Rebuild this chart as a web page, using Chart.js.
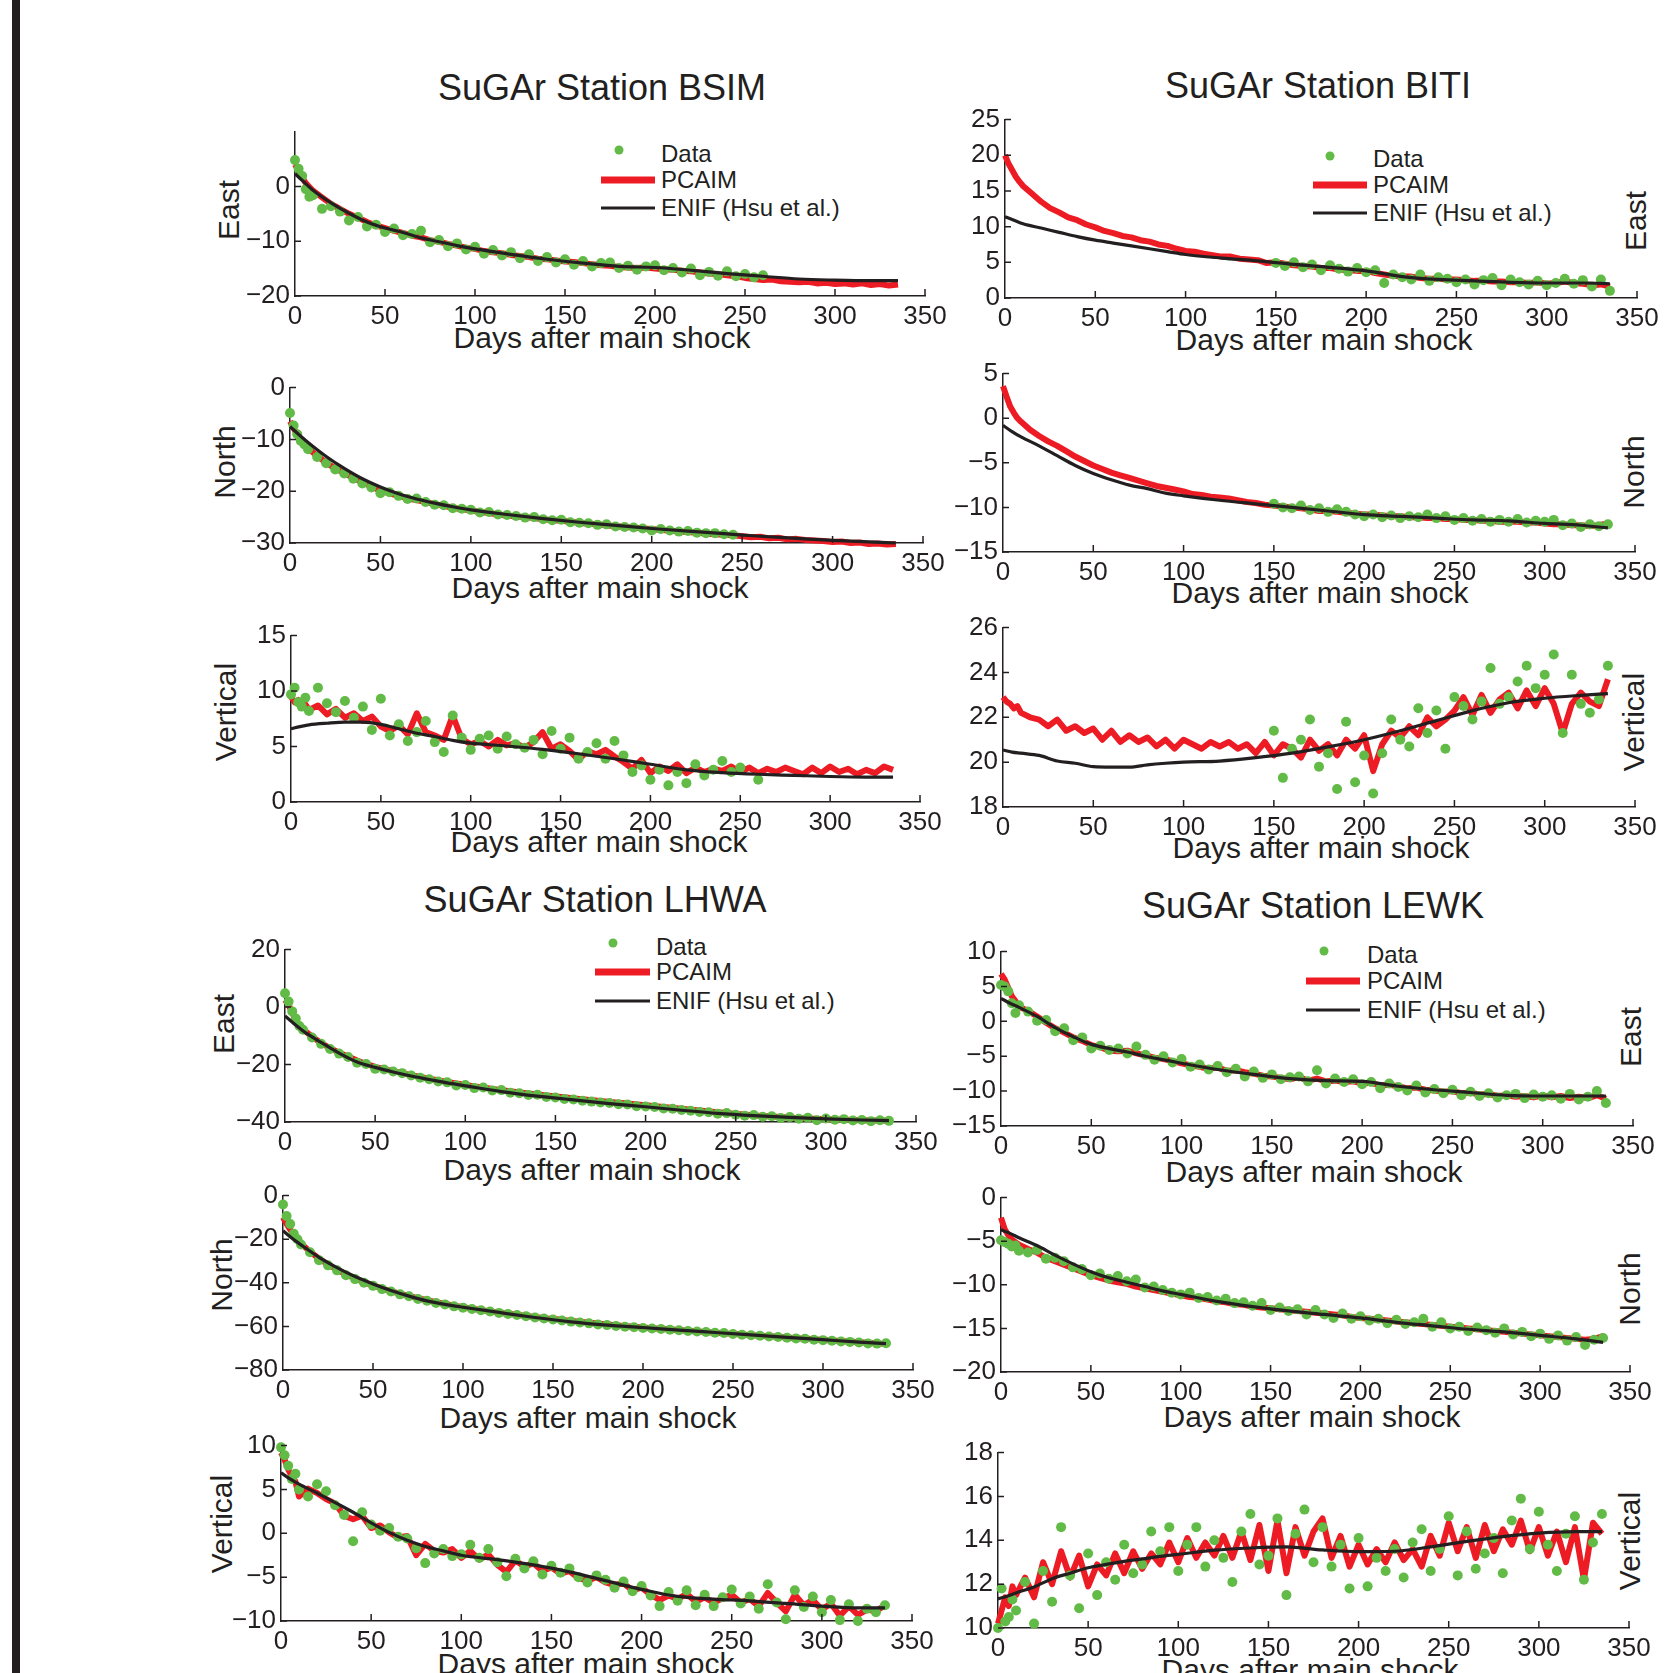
<!DOCTYPE html>
<html>
<head>
<meta charset="utf-8">
<script src="https://cdn.jsdelivr.net/npm/chart.js@4.4.0/dist/chart.umd.min.js"></script>
<style>
body { margin: 0; width: 1670px; height: 1673px; position: relative; overflow: hidden; background: #fff;
       font-family: 'Liberation Sans', Arial, sans-serif; color: #231f20; }
.bar { position: absolute; left: 12px; top: 0; width: 8px; height: 1673px; background: #231f20; }
.t { position: absolute; white-space: nowrap; line-height: 1; transform: translate(-50%, -50%); }
.title { font-size: 36px; }
.xl { font-size: 30px; }
.yl { font-size: 30px; transform: translate(-50%, -50%) rotate(-90deg); }
.lg { position: absolute; font-size: 24px; line-height: 1; white-space: nowrap; transform: translateY(-50%); }
.dot { position: absolute; width: 9px; height: 9px; border-radius: 50%; background: #62bb46; transform: translate(-50%, -50%); }
.ln { position: absolute; transform: translateY(-50%); }
canvas { position: absolute; }
</style>
</head>
<body>
<div class="bar"></div>
<script>
// days of the daily solutions (sampled) and of the ENIF curve
var DAYS = [0,2,4,6,8,10,
  15,20,25,30,35,40,45,50,55,60,
  65,70,75,80,85,90,95,100,105,110,
  115,120,125,130,135,140,145,150,155,160,
  165,170,175,180,185,190,195,200,205,210,
  215,220,225,230,235,240,245,250,255,260,
  265,270,275,280,285,290,295,300,305,310,
  315,320,325,330,335];
var ENIF_DAYS = [0,5,10,20,30,40,50,60,70,80,90,100,120,140,160,180,200,220,240,260,280,300,320,335];
var X_TICKS = [0,50,100,150,200,250,300,350];

// ---- BSIM
var bsimEastTicks = [-20,-10,0];
var bsimEastData = [4.8,3.2,1.9,-0.5,-1.9,-1.6,
  -4.1,-3.6,-4.6,-6.2,-5.6,-7.3,-7.0,-8.3,-7.7,-8.9,
  -8.7,-8.1,-10.2,-9.8,-10.9,-10.4,-11.5,-11.0,-12.3,-11.6,
  -12.6,-12.0,-13.1,-12.4,-13.6,-12.9,-13.9,-13.3,-14.3,-13.6,
  -14.6,-14.0,-13.9,-14.9,-14.5,-15.2,-14.6,-14.4,-15.3,-14.9,
  -15.7,-15.0,-16.2,-15.6,-16.3,-15.5,-16.4,-16.0,-16.6,-16.2,
  null,null,null,null,null,null,null,null,null,null,
  null,null,null,null,null];
var bsimEastPcaim = [4.0,2.9,1.6,0.6,-0.1,-0.8,
  -2.0,-3.2,-4.1,-5.0,-5.7,-6.5,-7.1,-7.6,-8.1,-8.5,
  -9.0,-9.3,-9.8,-10.1,-10.5,-10.8,-11.2,-11.4,-11.8,-12.0,
  -12.2,-12.5,-12.7,-12.9,-13.2,-13.3,-13.5,-13.7,-13.8,-14.0,
  -14.2,-14.4,-14.5,-14.7,-14.8,-14.9,-14.8,-15.0,-15.1,-15.2,
  -15.4,-15.5,-15.7,-15.9,-16.0,-16.2,-16.4,-16.7,-16.9,-17.1,
  -17.0,-17.3,-17.4,-17.5,-17.4,-17.7,-17.6,-17.8,-17.7,-17.9,
  -17.7,-18.0,-17.8,-18.1,-17.9];
var bsimEastEnif = [2.3,0.8,-0.7,-3.0,-4.9,-6.5,-7.6,-8.4,-9.4,-10.1,-10.8,-11.4,-12.4,-13.3,-14.0,-14.6,-14.8,-15.3,-15.9,-16.4,-16.9,-17.1,-17.2,-17.2];

var bsimNorthTicks = [-30,-20,-10,0];
var bsimNorthData = [-4.9,-7.3,-9.0,-10.3,-11.0,-11.9,
  -13.4,-14.6,-15.8,-16.6,-17.6,-18.5,-19.3,-20.4,-20.2,-20.9,
  -21.5,-21.4,-22.1,-22.6,-22.7,-23.3,-23.4,-23.6,-24.1,-24.0,
  -24.5,-24.6,-24.8,-25.1,-25.0,-25.4,-25.6,-25.5,-26.0,-26.1,
  -26.2,-26.5,-26.4,-26.8,-26.9,-27.0,-27.2,-27.6,-27.3,-27.6,
  -27.8,-27.7,-28.0,-28.1,-28.1,-28.3,-28.4,null,null,null,
  null,null,null,null,null,null,null,null,null,null,
  null,null,null,null,null];
var bsimNorthPcaim = [-6.5,-7.8,-9.2,-10.2,-11.0,-11.7,
  -13.2,-14.5,-15.6,-16.5,-17.4,-18.3,-19.1,-19.9,-20.4,-20.9,
  -21.4,-21.7,-22.1,-22.5,-22.8,-23.2,-23.5,-23.7,-24.0,-24.2,
  -24.5,-24.7,-24.9,-25.0,-25.2,-25.4,-25.6,-25.7,-25.9,-26.1,
  -26.3,-26.4,-26.6,-26.7,-26.9,-27.0,-27.2,-27.3,-27.5,-27.6,
  -27.8,-27.9,-28.0,-28.2,-28.3,-28.4,-28.5,-28.7,-28.9,-28.8,
  -29.1,-29.0,-29.3,-29.2,-29.4,-29.5,-29.6,-29.8,-29.7,-30.0,
  -29.9,-30.2,-30.1,-30.3,-30.2];
var bsimNorthEnif = [-7.5,-9.1,-10.6,-13.3,-15.6,-17.6,-19.2,-20.5,-21.5,-22.3,-23.0,-23.6,-24.5,-25.3,-26.0,-26.6,-27.2,-27.7,-28.2,-28.7,-29.1,-29.5,-29.8,-30.0];

var bsimVertTicks = [0,5,10,15];
var bsimVertData = [9.7,10.3,9.0,8.6,9.4,8.2,
  10.3,8.9,8.1,9.1,7.6,8.6,6.5,9.3,6.0,7.0,
  5.5,6.3,7.3,5.4,4.5,7.8,5.8,4.7,5.7,6.0,
  4.8,5.9,5.2,4.9,5.6,4.3,6.4,4.8,5.8,3.9,
  4.5,5.3,3.9,5.5,4.2,2.7,3.3,2.0,2.9,1.5,
  2.7,1.7,3.4,2.4,2.9,3.7,2.7,3.1,null,2.0,
  null,null,null,null,null,null,null,null,null,null,
  null,null,null,null,null];
var bsimVertPcaim = [9.5,9.0,9.2,8.5,8.8,8.3,
  8.7,7.9,8.4,7.6,8.0,7.3,7.7,6.8,6.4,6.9,
  6.1,8.0,6.3,6.0,5.6,7.8,5.7,5.2,5.5,5.0,
  5.6,5.1,5.3,4.9,5.4,6.3,4.8,5.2,4.6,3.8,
  4.6,4.3,4.7,4.1,3.6,3.0,3.8,2.6,3.2,2.8,
  3.4,2.6,3.1,2.7,3.0,2.8,3.2,2.7,3.1,2.6,
  3.0,2.7,3.1,2.8,2.5,3.1,2.6,3.2,2.7,3.0,
  2.5,2.9,2.6,3.2,2.9];
var bsimVertEnif = [6.6,6.8,6.95,7.1,7.2,7.2,7.0,6.6,6.2,5.9,5.55,5.3,5.05,4.75,4.35,3.9,3.4,2.9,2.65,2.5,2.4,2.3,2.25,2.25];

// ---- BITI
var bitiEastTicks = [0,5,10,15,20,25];
var bitiEastData = [null,null,null,null,null,null,
  null,null,null,null,null,null,null,null,null,null,
  null,null,null,null,null,null,null,null,null,null,
  null,null,null,null,null,null,null,4.9,4.5,5.0,
  4.3,4.7,3.9,4.6,4.1,3.7,4.2,3.6,3.9,2.1,
  3.3,2.9,2.6,3.3,2.4,2.9,2.7,2.2,2.6,1.9,
  2.5,2.8,1.8,2.6,2.2,1.9,2.4,1.8,2.1,2.7,
  2.0,2.5,1.6,2.6,1.0];
var bitiEastPcaim = [20.0,18.8,17.9,17.0,16.3,15.7,
  14.6,13.5,12.6,12.0,11.3,10.9,10.3,9.9,9.4,9.1,
  8.7,8.5,8.1,7.9,7.5,7.3,6.9,6.6,6.5,6.2,
  6.0,5.8,5.8,5.5,5.4,5.3,4.9,5.0,4.8,4.6,
  4.5,4.4,4.2,4.2,4.0,3.9,3.8,3.8,3.5,3.3,
  3.1,3.0,3.0,2.8,2.7,2.7,2.6,2.6,2.5,2.4,
  2.4,2.3,2.3,2.2,2.2,2.1,2.2,2.0,2.1,2.3,
  2.1,2.0,1.8,1.9,1.6];
var bitiEastEnif = [11.4,10.9,10.4,9.8,9.2,8.6,8.1,7.7,7.3,6.9,6.5,6.1,5.6,5.2,4.7,4.3,3.8,3.0,2.6,2.4,2.2,2.1,2.1,2.0];

var bitiNorthTicks = [-15,-10,-5,0,5];
var bitiNorthData = [null,null,null,null,null,null,
  null,null,null,null,null,null,null,null,null,null,
  null,null,null,null,null,null,null,null,null,null,
  null,null,null,null,null,null,null,-9.6,-10.0,-10.1,
  -9.8,-10.3,-10.1,-10.5,-10.2,-10.5,-10.8,-11.0,-10.8,-11.1,
  -10.9,-11.2,-11.0,-11.1,-10.8,-11.2,-11.0,-11.4,-11.2,-11.5,
  -11.3,-11.6,-11.4,-11.6,-11.3,-11.7,-11.5,-11.6,-11.4,-12.0,
  -11.8,-12.2,-11.9,-12.1,-11.9];
var bitiNorthPcaim = [3.6,2.4,1.3,0.6,0.0,-0.4,
  -1.3,-2.0,-2.6,-3.1,-3.7,-4.3,-4.8,-5.3,-5.7,-6.1,
  -6.4,-6.7,-7.0,-7.3,-7.6,-7.8,-8.0,-8.2,-8.5,-8.6,
  -8.8,-8.9,-9.0,-9.2,-9.4,-9.5,-9.7,-9.8,-9.9,-10.0,
  -10.1,-10.2,-10.4,-10.4,-10.5,-10.6,-10.7,-10.8,-10.8,-10.9,
  -11.0,-11.0,-11.1,-11.1,-11.2,-11.2,-11.3,-11.3,-11.4,-11.4,
  -11.5,-11.5,-11.6,-11.6,-11.6,-11.7,-11.7,-11.8,-11.9,-11.9,
  -12.0,-12.0,-12.1,-12.0,-11.8];
var bitiNorthEnif = [-0.8,-1.5,-2.1,-3.1,-4.2,-5.3,-6.2,-6.9,-7.5,-7.9,-8.4,-8.7,-9.2,-9.6,-10.0,-10.4,-10.8,-11.0,-11.2,-11.4,-11.5,-11.8,-12.0,-12.3];

var bitiVertTicks = [18,20,22,24,26];
var bitiVertData = [null,null,null,null,null,null,
  null,null,null,null,null,null,null,null,null,null,
  null,null,null,null,null,null,null,null,null,null,
  null,null,null,null,null,null,null,21.4,19.3,20.6,
  21.0,21.9,19.8,20.4,18.8,21.8,19.1,20.3,18.6,20.4,
  21.9,21.0,20.7,22.4,21.3,22.3,20.6,22.9,22.5,21.9,
  22.7,24.2,22.6,22.9,23.6,24.3,23.3,23.9,24.8,21.3,
  23.9,22.6,22.2,22.8,24.3];
var bitiVertPcaim = [22.9,22.7,22.6,22.4,22.5,22.2,
  22.0,21.9,21.6,21.9,21.4,21.6,21.3,21.5,21.0,21.4,
  20.9,21.2,20.9,21.1,20.7,21.0,20.6,21.0,20.8,20.6,
  20.9,20.7,20.9,20.6,20.8,20.4,20.9,20.3,20.8,20.6,
  20.2,21.0,20.5,20.8,20.3,21.0,20.6,21.2,19.6,20.8,
  21.4,21.1,21.6,21.2,22.0,21.6,21.9,22.3,22.9,22.1,
  23.0,22.2,22.8,23.1,22.4,23.2,22.5,23.3,22.6,21.3,
  22.6,23.1,22.7,22.5,23.7];
var bitiVertEnif = [20.54,20.45,20.4,20.3,20.05,19.95,19.8,19.78,19.78,19.88,19.95,20.0,20.05,20.2,20.4,20.68,21.0,21.4,21.85,22.3,22.65,22.85,22.98,23.06];

// ---- LHWA
var lhwaEastTicks = [-40,-20,0,20];
var lhwaEastData = [4.8,1.9,-1.5,-4.0,-6.6,-7.9,
  -10.6,-12.8,-14.6,-16.2,-17.4,-19.4,-19.8,-21.5,-21.7,-22.4,
  -23.0,-23.8,-24.6,-25.1,-25.9,-26.2,-27.3,-27.1,-28.2,-28.0,
  -29.0,-28.9,-29.8,-30.0,-30.6,-30.5,-31.3,-31.5,-32.0,-32.2,
  -32.6,-32.9,-33.2,-33.4,-33.8,-33.9,-34.5,-34.6,-34.8,-35.3,
  -35.4,-35.8,-36.1,-36.5,-36.6,-37.1,-36.9,-37.5,-37.8,-37.6,
  -38.2,-38.0,-38.6,-38.3,-38.9,-38.5,-39.4,-38.8,-39.2,-39.0,
  -39.5,-39.3,-39.7,-39.4,-39.6];
var lhwaEastPcaim = [2.5,0.8,-2.0,-4.5,-6.4,-7.7,
  -10.3,-12.5,-14.3,-15.9,-17.2,-18.6,-19.8,-20.8,-21.6,-22.3,
  -23.0,-23.7,-24.3,-25.0,-25.5,-26.1,-26.6,-27.1,-27.6,-28.0,
  -28.5,-28.9,-29.3,-29.7,-30.1,-30.4,-30.8,-31.1,-31.4,-31.8,
  -32.1,-32.4,-32.7,-33.0,-33.3,-33.6,-33.9,-34.2,-34.5,-34.8,
  -35.1,-35.4,-35.7,-36.0,-36.3,-36.6,-36.9,-37.2,-37.4,-37.7,
  -37.9,-38.1,-38.3,-38.5,-38.6,-38.8,-38.9,-39.0,-39.1,-39.2,
  -39.3,-39.4,-39.5,-39.5,-39.6];
var lhwaEastEnif = [-3.1,-5.8,-8.3,-12.3,-16.0,-19.1,-21.0,-22.6,-24.0,-25.2,-26.4,-27.4,-29.4,-31.0,-32.3,-33.6,-34.7,-35.9,-37.0,-37.8,-38.4,-38.9,-39.3,-39.5];

var lhwaNorthTicks = [-80,-60,-40,-20,0];
var lhwaNorthData = [-4.1,-9.4,-13.0,-17.5,-20.0,-22.4,
  -26.0,-29.6,-32.0,-34.3,-36.5,-38.3,-40.0,-41.4,-42.9,-44.0,
  -45.3,-46.2,-47.4,-48.2,-49.3,-49.9,-50.8,-51.4,-52.0,-52.6,
  -53.2,-53.8,-54.3,-54.8,-55.3,-55.9,-56.4,-56.8,-57.3,-57.8,
  -58.2,-58.6,-59.1,-59.4,-59.8,-60.2,-60.4,-60.7,-61.0,-61.2,
  -61.5,-61.8,-62.1,-62.3,-62.6,-62.9,-63.0,-63.5,-63.8,-64.1,
  -64.3,-64.6,-64.9,-65.2,-65.5,-65.7,-66.1,-66.3,-66.6,-66.9,
  -67.1,-67.4,-67.8,-67.9,-67.7];
var lhwaNorthPcaim = [-10.0,-13.0,-15.6,-18.0,-20.1,-22.0,
  -25.7,-28.9,-31.6,-34.0,-36.1,-38.0,-39.7,-41.2,-42.6,-43.9,
  -45.0,-46.1,-47.1,-48.0,-48.9,-49.7,-50.5,-51.2,-51.9,-52.5,
  -53.1,-53.7,-54.2,-54.7,-55.2,-55.7,-56.2,-56.6,-57.0,-57.5,
  -57.9,-58.3,-58.7,-59.1,-59.5,-59.9,-60.2,-60.5,-60.8,-61.1,
  -61.4,-61.7,-62.0,-62.3,-62.6,-62.9,-63.2,-63.4,-63.7,-64.0,
  -64.3,-64.5,-64.8,-65.1,-65.4,-65.6,-65.9,-66.2,-66.5,-66.7,
  -67.0,-67.3,-67.5,-67.8,-68.0];
var lhwaNorthEnif = [-16.1,-19.6,-22.6,-28.3,-33.0,-37.1,-40.5,-43.5,-46.1,-48.3,-49.9,-51.2,-53.6,-55.9,-57.9,-59.4,-60.5,-61.7,-62.8,-63.9,-65.0,-66.1,-67.2,-67.9];

var lhwaVertTicks = [-10,-5,0,5,10];
var lhwaVertData = [9.8,8.9,7.7,6.2,6.8,5.0,
  4.2,5.6,4.8,3.2,2.1,-0.9,2.4,1.0,0.3,0.6,
  -0.4,-0.6,-1.7,-3.4,-2.3,-1.8,-2.6,-2.4,-1.3,-2.8,
  -1.8,-3.3,-4.9,-2.9,-4.0,-3.2,-4.7,-3.7,-4.5,-4.0,
  -5.0,-5.6,-4.8,-5.3,-6.2,-5.5,-6.6,-6.0,-7.1,-8.3,
  -6.7,-7.7,-6.5,-8.2,-7.0,-8.3,-7.3,-6.4,-8.0,-7.2,
  -8.6,-5.8,-7.9,-9.8,-6.5,-8.4,-7.2,-9.0,-7.6,-9.9,
  -8.1,-10.0,-8.6,-9.0,-8.2];
var lhwaVertPcaim = [9.2,8.4,7.3,6.5,5.9,4.2,
  5.1,4.6,3.9,3.4,2.0,1.6,2.0,0.6,0.9,0.1,
  -0.5,-0.3,-2.5,-1.2,-2.0,-2.2,-1.8,-2.8,-2.0,-3.0,
  -2.4,-3.6,-4.4,-3.1,-3.8,-3.4,-4.3,-3.9,-4.6,-4.3,
  -5.1,-5.4,-5.0,-5.6,-5.9,-5.7,-6.5,-6.2,-7.0,-7.6,
  -7.1,-7.5,-6.9,-7.8,-7.3,-7.9,-7.4,-7.0,-7.9,-7.5,
  -8.3,-6.8,-7.9,-8.9,-7.0,-8.2,-7.6,-8.7,-8.0,-9.4,
  -8.3,-9.3,-8.7,-8.9,-8.2];
var lhwaVertEnif = [6.9,6.2,5.6,4.6,3.5,2.4,1.2,0.1,-0.8,-1.5,-2.0,-2.5,-3.0,-3.6,-4.4,-5.4,-6.4,-7.2,-7.5,-7.7,-8.0,-8.3,-8.5,-8.5];

// ---- LEWK
var lewkEastTicks = [-15,-10,-5,0,5,10];
var lewkEastData = [5.2,5.0,4.3,2.6,1.2,2.3,
  1.4,0.1,0.2,-1.4,-1.0,-2.7,-2.3,-3.9,-3.5,-4.1,
  -3.9,-4.6,-3.6,-4.8,-5.5,-5.0,-5.9,-5.4,-6.5,-6.2,
  -6.9,-6.4,-7.3,-6.8,-7.9,-7.2,-8.1,-7.6,-8.3,-8.0,
  -7.9,-8.6,-7.0,-8.9,-8.2,-8.7,-8.3,-9.0,-8.7,-9.6,
  -8.9,-9.4,-9.9,-9.2,-10.2,-9.7,-10.3,-9.8,-10.6,-10.1,
  -10.7,-10.3,-10.9,-10.6,-10.4,-11.0,-10.5,-10.8,-10.6,-11.1,
  -10.4,-11.2,-10.8,-10.0,-11.7];
var lewkEastPcaim = [6.8,6.0,4.8,3.6,2.9,2.1,
  1.5,0.7,-0.2,-1.0,-1.6,-2.3,-2.8,-3.4,-3.7,-4.2,
  -4.3,-4.2,-4.6,-4.9,-5.2,-5.4,-5.7,-6.0,-6.3,-6.5,
  -6.8,-6.6,-7.1,-7.0,-7.3,-7.5,-7.8,-7.9,-8.1,-8.3,
  -8.0,-8.5,-8.2,-8.6,-8.5,-8.7,-8.6,-8.9,-8.8,-9.2,
  -9.1,-9.3,-9.6,-9.5,-9.8,-9.9,-10.1,-10.0,-10.3,-10.2,
  -10.5,-10.4,-10.7,-10.6,-10.8,-10.7,-10.9,-10.6,-10.9,-10.7,
  -11.0,-10.8,-11.0,-10.6,-11.1];
var lewkEastEnif = [3.3,2.6,2.0,0.7,-0.9,-2.2,-3.3,-3.9,-4.4,-5.0,-5.5,-6.0,-6.9,-7.6,-8.2,-8.5,-8.6,-9.3,-9.8,-10.2,-10.6,-10.7,-10.7,-10.7];

var lewkNorthTicks = [-20,-15,-10,-5,0];
var lewkNorthData = [-4.9,-5.1,-5.3,-5.6,-5.5,-6.1,
  -6.3,-6.0,-7.0,-6.9,-7.3,-8.0,-8.2,-8.9,-8.7,-9.3,
  -9.0,-9.6,-9.4,-10.3,-10.2,-10.6,-10.9,-11.1,-10.9,-11.5,
  -11.4,-11.8,-11.6,-12.1,-12.0,-12.4,-12.1,-12.9,-12.6,-13.0,
  -12.8,-13.4,-12.9,-13.4,-13.8,-13.3,-13.9,-13.6,-14.1,-13.9,
  -14.4,-14.0,-14.5,-14.3,-13.9,-14.8,-14.3,-15.0,-14.8,-15.3,
  -14.9,-15.2,-15.5,-15.0,-15.7,-15.4,-15.9,-15.6,-16.2,-15.8,
  -16.4,-16.0,-16.9,-16.3,-16.1];
var lewkNorthPcaim = [-2.3,-3.6,-4.3,-4.8,-5.1,-5.4,
  -5.9,-6.3,-6.9,-7.3,-7.7,-8.1,-8.5,-8.9,-9.2,-9.5,
  -9.7,-9.9,-10.2,-10.4,-10.6,-10.8,-11.0,-11.2,-11.4,-11.5,
  -11.7,-11.9,-12.0,-12.2,-12.3,-12.5,-12.6,-12.7,-12.8,-12.9,
  -13.0,-13.1,-13.2,-13.3,-13.4,-13.5,-13.7,-13.8,-13.9,-14.0,
  -14.1,-14.2,-14.3,-14.4,-14.5,-14.6,-14.7,-14.8,-14.9,-15.0,
  -15.1,-15.2,-15.3,-15.4,-15.5,-15.6,-15.7,-15.8,-15.9,-16.0,
  -16.1,-16.2,-16.3,-16.2,-15.9];
var lewkNorthEnif = [-3.7,-4.1,-4.6,-5.5,-6.6,-7.6,-8.5,-9.2,-9.7,-10.2,-10.7,-11.1,-11.9,-12.5,-13.0,-13.4,-13.8,-14.3,-14.7,-15.1,-15.4,-15.8,-16.2,-16.6];

var lewkVertTicks = [10,12,14,16,18];
var lewkVertData = [10.0,11.8,10.3,10.5,11.3,10.8,
  12.1,10.2,12.6,11.2,14.6,12.4,10.9,13.4,11.5,13.0,
  12.2,13.8,12.5,12.9,14.4,13.5,14.6,12.6,13.8,14.6,
  12.8,14.0,13.2,12.1,14.4,15.2,12.9,13.3,15.0,11.5,
  14.3,15.4,13.0,14.6,12.8,13.8,11.8,14.1,11.9,13.2,
  12.6,13.6,12.3,13.9,14.5,12.6,13.6,15.1,12.4,14.4,
  12.7,13.4,14.1,12.5,14.9,15.9,13.6,15.3,13.8,12.6,
  14.3,15.1,12.2,13.9,15.2];
var lewkVertPcaim = [10.2,10.8,11.4,11.0,11.9,11.5,
  12.3,11.4,13.0,12.0,13.5,12.3,13.3,11.9,12.9,12.4,
  13.4,12.5,13.5,12.7,13.4,12.9,13.9,13.0,14.1,13.2,
  13.9,13.3,14.2,13.2,14.4,13.1,14.7,12.6,14.9,12.5,
  14.6,13.3,14.4,15.0,13.2,14.2,12.8,13.8,12.9,13.6,
  13.0,13.9,13.1,13.6,12.8,14.2,13.3,14.8,13.5,14.6,
  13.2,14.7,13.5,14.5,13.8,14.9,13.5,14.6,13.3,14.4,
  13.0,14.6,12.2,14.8,14.3];
var lewkVertEnif = [11.33,11.45,11.6,11.87,12.25,12.5,12.75,12.9,13.04,13.15,13.27,13.36,13.55,13.65,13.7,13.56,13.48,13.5,13.7,13.95,14.17,14.33,14.4,14.4];

var INK = '#231f20';
var RED = '#ed1c24';
var GREEN = '#62bb46';
var TICK_FONT = "'Liberation Sans Narrow', 'Liberation Sans', Arial, sans-serif";

// plot boxes (pixels of the axes corners)
var panels = [
  {L:295, R:925, T:127, B:296, min:-20, max:10, ticks:bsimEastTicks, data:bsimEastData, pcaim:bsimEastPcaim, enif:bsimEastEnif},
  {L:290, R:923, T:383, B:543, min:-30, max:0, ticks:bsimNorthTicks, data:bsimNorthData, pcaim:bsimNorthPcaim, enif:bsimNorthEnif},
  {L:291, R:920, T:631, B:802, min:0, max:15, ticks:bsimVertTicks, data:bsimVertData, pcaim:bsimVertPcaim, enif:bsimVertEnif},
  {L:1005, R:1637, T:115, B:298, min:0, max:25, ticks:bitiEastTicks, data:bitiEastData, pcaim:bitiEastPcaim, enif:bitiEastEnif},
  {L:1003, R:1635, T:369, B:552, min:-15, max:5, ticks:bitiNorthTicks, data:bitiNorthData, pcaim:bitiNorthPcaim, enif:bitiNorthEnif},
  {L:1003, R:1635, T:623, B:807, min:18, max:26, ticks:bitiVertTicks, data:bitiVertData, pcaim:bitiVertPcaim, enif:bitiVertEnif},
  {L:285, R:916, T:945, B:1122, min:-40, max:20, ticks:lhwaEastTicks, data:lhwaEastData, pcaim:lhwaEastPcaim, enif:lhwaEastEnif},
  {L:283, R:913, T:1191, B:1370, min:-80, max:0, ticks:lhwaNorthTicks, data:lhwaNorthData, pcaim:lhwaNorthPcaim, enif:lhwaNorthEnif},
  {L:281, R:912, T:1441, B:1621, min:-10, max:10, ticks:lhwaVertTicks, data:lhwaVertData, pcaim:lhwaVertPcaim, enif:lhwaVertEnif},
  {L:1001, R:1633, T:947, B:1126, min:-15, max:10, ticks:lewkEastTicks, data:lewkEastData, pcaim:lewkEastPcaim, enif:lewkEastEnif},
  {L:1001, R:1630, T:1193, B:1372, min:-20, max:0, ticks:lewkNorthTicks, data:lewkNorthData, pcaim:lewkNorthPcaim, enif:lewkNorthEnif},
  {L:998, R:1629, T:1448, B:1628, min:10, max:18, ticks:lewkVertTicks, data:lewkVertData, pcaim:lewkVertPcaim, enif:lewkVertEnif}
];

var texts = [
  ['SuGAr Station BSIM', 602, 88, 'title'],
  ['SuGAr Station BITI', 1318, 86, 'title'],
  ['SuGAr Station LHWA', 595, 900, 'title'],
  ['SuGAr Station LEWK', 1313, 906, 'title'],
  ['Days after main shock', 602, 338, 'xl'],
  ['Days after main shock', 600, 588, 'xl'],
  ['Days after main shock', 599, 842, 'xl'],
  ['Days after main shock', 1324, 340, 'xl'],
  ['Days after main shock', 1320, 593, 'xl'],
  ['Days after main shock', 1321, 848, 'xl'],
  ['Days after main shock', 592, 1170, 'xl'],
  ['Days after main shock', 588, 1418, 'xl'],
  ['Days after main shock', 586, 1664, 'xl'],
  ['Days after main shock', 1314, 1172, 'xl'],
  ['Days after main shock', 1312, 1417, 'xl'],
  ['Days after main shock', 1310, 1670, 'xl'],
  ['East', 229, 210, 'yl'],
  ['North', 225, 462, 'yl'],
  ['Vertical', 226, 712, 'yl'],
  ['East', 1636, 221, 'yl'],
  ['North', 1634, 472, 'yl'],
  ['Vertical', 1634, 722, 'yl'],
  ['East', 224, 1024, 'yl'],
  ['North', 222, 1275, 'yl'],
  ['Vertical', 222, 1524, 'yl'],
  ['East', 1631, 1037, 'yl'],
  ['North', 1630, 1289, 'yl'],
  ['Vertical', 1630, 1541, 'yl']
];

// legend boxes: dot centre, line span, line rows, text left
var legends = [
  {dx:619, dy:150, x0:601, x1:655, ry:180, ky:208, tx:661, ty:154},
  {dx:1330, dy:156, x0:1313, x1:1367, ry:185, ky:213, tx:1373, ty:159},
  {dx:613, dy:943, x0:595, x1:650, ry:972, ky:1001, tx:656, ty:947},
  {dx:1324, dy:951, x0:1306, x1:1360, ry:981, ky:1010, tx:1367, ty:955}
];

function addEl(cls, html, style) {
  var d = document.createElement('div');
  d.className = cls;
  d.innerHTML = html;
  for (var k in style) d.style[k] = style[k];
  document.body.appendChild(d);
}

texts.forEach(function (t) {
  addEl('t ' + t[3], t[0], {left: t[1] + 'px', top: t[2] + 'px'});
});

legends.forEach(function (g) {
  addEl('dot', '', {left: g.dx + 'px', top: g.dy + 'px'});
  addEl('ln', '', {left: g.x0 + 'px', top: g.ry + 'px', width: (g.x1 - g.x0) + 'px', height: '7px', background: RED});
  addEl('ln', '', {left: g.x0 + 'px', top: g.ky + 'px', width: (g.x1 - g.x0) + 'px', height: '3px', background: INK});
  addEl('lg', 'Data', {left: g.tx + 'px', top: g.ty + 'px'});
  addEl('lg', 'PCAIM', {left: g.tx + 'px', top: g.ry + 'px'});
  addEl('lg', 'ENIF (Hsu et al.)', {left: g.tx + 'px', top: g.ky + 'px'});
});

function pts(xs, ys) {
  var out = [];
  for (var i = 0; i < xs.length; ++i) out.push({x: xs[i], y: ys[i]});
  return out;
}

function minus(v) {
  return String(v).replace('-', '\u2212');
}

// tick marks drawn inside the axes, like the original figure
var inwardTicks = {
  id: 'inwardTicks',
  afterDraw: function (chart) {
    var ctx = chart.ctx, xs = chart.scales.x, ys = chart.scales.y;
    ctx.save();
    ctx.strokeStyle = INK;
    ctx.lineWidth = 1.5;
    ctx.beginPath();
    xs.ticks.forEach(function (t) {
      if (t.value === 0) return;
      var px = xs.getPixelForValue(t.value);
      ctx.moveTo(px, xs.top);
      ctx.lineTo(px, xs.top - 7);
    });
    ys.ticks.forEach(function (t) {
      var py = ys.getPixelForValue(t.value);
      ctx.moveTo(ys.right, py);
      ctx.lineTo(ys.right + 6, py);
    });
    ctx.stroke();
    ctx.restore();
  }
};

var yW = 64, xH = 34, padTop = 16, padRight = 30;

panels.forEach(function (p) {
  var c = document.createElement('canvas');
  var w = (p.R - p.L) + yW + padRight;
  var h = (p.B - p.T) + padTop + xH;
  c.width = w; c.height = h;
  c.style.left = (p.L - yW) + 'px';
  c.style.top = (p.T - padTop) + 'px';
  c.style.width = w + 'px';
  c.style.height = h + 'px';
  document.body.appendChild(c);

  new Chart(c, {
    type: 'line',
    data: {
      datasets: [
        {label: 'ENIF (Hsu et al.)', data: pts(ENIF_DAYS, p.enif), borderColor: INK, borderWidth: 3.2,
         pointRadius: 0, cubicInterpolationMode: 'monotone', order: 1, clip: false},
        {label: 'Data', data: pts(DAYS, p.data), showLine: false, pointRadius: 5,
         pointBackgroundColor: GREEN, pointBorderWidth: 0, order: 2, clip: false},
        {label: 'PCAIM', data: pts(DAYS, p.pcaim), borderColor: RED, borderWidth: 6,
         borderJoinStyle: 'round', pointRadius: 0, tension: 0, order: 3, clip: false}
      ]
    },
    options: {
      responsive: false,
      animation: false,
      events: [],
      layout: {padding: {top: padTop, right: padRight, left: 0, bottom: 0}},
      plugins: {legend: {display: false}, tooltip: {enabled: false}},
      scales: {
        x: {
          type: 'linear', min: 0, max: 350,
          grid: {display: false, drawTicks: false},
          border: {display: true, color: INK, width: 1.5},
          ticks: {padding: 5, color: INK, maxRotation: 0, autoSkip: false,
                  font: {family: TICK_FONT, size: 26}},
          afterBuildTicks: function (s) { s.ticks = X_TICKS.map(function (v) { return {value: v}; }); },
          afterFit: function (s) { s.height = xH; }
        },
        y: {
          type: 'linear', min: p.min, max: p.max,
          grid: {display: false, drawTicks: false},
          border: {display: true, color: INK, width: 1.5},
          ticks: {padding: 5, color: INK, autoSkip: false, callback: minus,
                  font: {family: TICK_FONT, size: 26}},
          afterBuildTicks: function (s) { s.ticks = p.ticks.map(function (v) { return {value: v}; }); },
          afterFit: function (s) { s.width = yW; }
        }
      }
    },
    plugins: [inwardTicks]
  });
});
</script>
</body>
</html>
